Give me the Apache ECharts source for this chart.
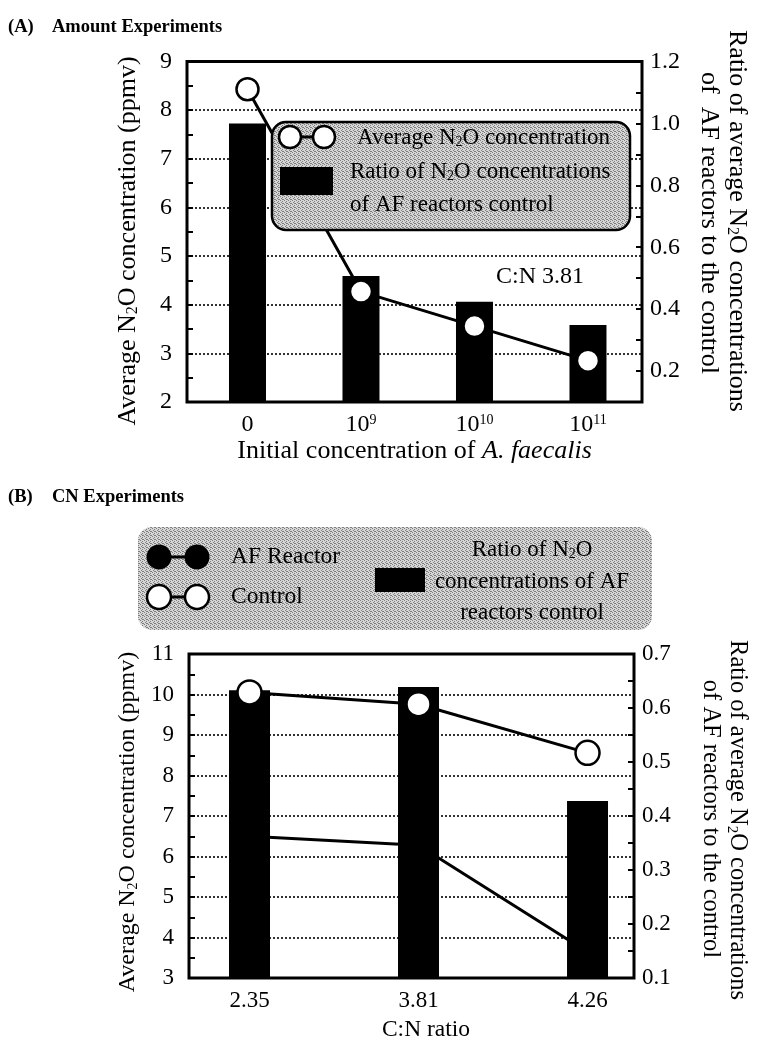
<!DOCTYPE html>
<html><head><meta charset="utf-8">
<script src="https://cdn.jsdelivr.net/npm/echarts@6/dist/echarts.min.js"></script>
<style>html,body{margin:0;padding:0;background:#fff}#c{width:757px;height:1048px}</style>
</head><body><div id="c"></div>
<script>
// ---------- Panel A: Amount Experiments ----------
const catsA = ['0', '10^9', '10^10', '10^11'];
const avgN2OA = [8.43, 4.27, 3.56, 2.85];          // ppmv, left axis
const ratioA = [1.00, 0.507, 0.424, 0.349];        // ratio, right axis
const leftLabelsA = [2, 3, 4, 5, 6, 7, 8, 9];
const rightLabelsA = [0.2, 0.4, 0.6, 0.8, 1.0, 1.2];
// ---------- Panel B: CN Experiments ----------
const catsB = ['2.35', '3.81', '4.26'];
const afReactorB = [6.50, 6.28, 3.64];             // ppmv, left axis
const controlB = [10.05, 9.76, 8.56];              // ppmv, left axis
const ratioB = [0.633, 0.639, 0.428];              // ratio, right axis
const leftLabelsB = [3, 4, 5, 6, 7, 8, 9, 10, 11];
const rightLabelsB = [0.1, 0.2, 0.3, 0.4, 0.5, 0.6, 0.7];

const FF = 'Liberation Serif';
const chart = echarts.init(document.getElementById('c'), null, {renderer: 'canvas'});

function steps(a, b, s) { const r = []; for (let v = a; v <= b + 1e-9; v += s) r.push(+v.toFixed(4)); return r; }
function pairs(vals) { return vals.map((v, i) => [i, v]); }
function catLabel(c) {
  const p = c.split('^');
  return p.length > 1 ? '{b|' + p[0] + '}{s|' + p[1] + '}' : '{b|' + c + '}';
}
function stipple() {
  const c = document.createElement('canvas'); c.width = 4; c.height = 4;
  const g = c.getContext('2d');
  g.fillStyle = '#d6d6d6'; g.fillRect(0, 0, 4, 4);
  g.fillStyle = '#7e7e7e';
  [[0, 0], [2, 1], [1, 2], [3, 3], [2, 3]].forEach(p => g.fillRect(p[0], p[1], 1, 1));
  return c;
}
const pat = stipple();

const tickStyle = {lineStyle: {color: '#000', width: 2}};
const dotted = {show: true, lineStyle: {color: '#000', width: 1.6, type: [2, 2]}};
const noLine = {show: false, onZero: false};
const numLabel = (size, margin) => ({color: '#000', fontFamily: FF, fontSize: size, margin: margin});

function n2oText(x, y, rot, pre, post, size, align) {
  return {type: 'text', x: x, y: y, rotation: rot, z: 101,
    style: {text: '{t|' + pre + '}{s|2}{t|' + post + '}', align: align || 'center', verticalAlign: 'middle',
      rich: {t: {fontFamily: FF, fontSize: size, fill: '#000'}, s: {fontFamily: FF, fontSize: Math.round(size * 0.6), fill: '#000', verticalAlign: 'bottom'}}}};
}
function plainText(x, y, txt, size, opts, rot) {
  return {type: 'text', x: x, y: y, z: 101, rotation: rot || 0,
    style: Object.assign({text: txt, fontFamily: FF, fontSize: size, fill: '#000', align: 'left', verticalAlign: 'middle'}, (opts || {}))};
}
// hidden axis that only draws the dotted integer gridlines
function gridAxis(gi, mn, mx) {
  return {type: 'value', gridIndex: gi, position: 'left', min: mn, max: mx, interval: 1,
    axisLine: noLine, axisTick: {show: false}, axisLabel: {show: false}, splitLine: dotted};
}

const option = {
  animation: false,
  backgroundColor: '#fff',
  grid: [
    {left: 187, top: 61.5, width: 455, height: 340.5, show: true, borderColor: '#000', borderWidth: 3, backgroundColor: 'transparent'},
    {left: 189, top: 654, width: 445, height: 324, show: true, borderColor: '#000', borderWidth: 3, backgroundColor: 'transparent'}
  ],
  xAxis: [
    {type: 'value', gridIndex: 0, min: -0.533, max: 3.476,
      axisLine: noLine, axisTick: {show: false}, splitLine: {show: false},
      axisLabel: {customValues: [0, 1, 2, 3], margin: 11, formatter: v => catLabel(catsA[Math.round(v)]),
        rich: {b: {fontFamily: FF, fontSize: 24, color: '#000'}, s: {fontFamily: FF, fontSize: 14, color: '#000', verticalAlign: 'top'}}},
      name: 'Initial concentration of {i|A. faecalis}', nameLocation: 'middle', nameGap: 36,
      nameTextStyle: {fontFamily: FF, fontSize: 26, color: '#000', rich: {i: {fontFamily: FF, fontSize: 26, fontStyle: 'italic', color: '#000'}}}},
    {type: 'value', gridIndex: 1, min: -0.358, max: 2.275,
      axisLine: noLine, axisTick: {show: false}, splitLine: {show: false},
      axisLabel: Object.assign(numLabel(23, 11), {customValues: [0, 1, 2], formatter: v => catsB[Math.round(v)]})}
  ],
  yAxis: [
    {type: 'value', gridIndex: 0, position: 'left', min: 2, max: 9,
      axisLine: noLine, splitLine: {show: false},
      axisTick: Object.assign({inside: true, length: 6, customValues: steps(2, 9, 0.5)}, tickStyle),
      axisLabel: Object.assign(numLabel(24, 15), {customValues: leftLabelsA})},
    {type: 'value', gridIndex: 0, position: 'right', min: 0.1, max: 1.2,
      axisLine: noLine, splitLine: {show: false},
      axisTick: Object.assign({inside: true, length: 6, customValues: steps(0.1, 1.2, 0.1)}, tickStyle),
      axisLabel: Object.assign(numLabel(24, 8), {customValues: rightLabelsA, formatter: v => v.toFixed(1)})},
    {type: 'value', gridIndex: 1, position: 'left', min: 3, max: 11,
      axisLine: noLine, splitLine: {show: false},
      axisTick: Object.assign({inside: true, length: 6, customValues: steps(3, 11, 0.5)}, tickStyle),
      axisLabel: Object.assign(numLabel(23, 15), {customValues: leftLabelsB})},
    {type: 'value', gridIndex: 1, position: 'right', min: 0.1, max: 0.7,
      axisLine: noLine, splitLine: {show: false},
      axisTick: Object.assign({inside: true, length: 6, customValues: steps(0.1, 0.7, 0.05)}, tickStyle),
      axisLabel: Object.assign(numLabel(23, 8), {customValues: rightLabelsB, formatter: v => v.toFixed(1)})},
    gridAxis(0, 2, 9),
    gridAxis(1, 3, 11)
  ],
  series: [
    {type: 'bar', xAxisIndex: 0, yAxisIndex: 1, data: pairs(ratioA), barWidth: 37, clip: true,
      itemStyle: {color: '#000'}, z: 2},
    {type: 'line', xAxisIndex: 0, yAxisIndex: 0, data: pairs(avgN2OA), symbol: 'circle', symbolSize: 22,
      itemStyle: {color: '#fff', borderColor: '#000', borderWidth: 2.5}, lineStyle: {color: '#000', width: 3}, z: 3},
    {type: 'bar', xAxisIndex: 1, yAxisIndex: 3, data: pairs(ratioB), barWidth: 41, clip: true,
      itemStyle: {color: '#000'}, z: 2},
    {type: 'line', xAxisIndex: 1, yAxisIndex: 2, data: pairs(afReactorB), symbol: 'circle', symbolSize: 24,
      itemStyle: {color: '#000', borderColor: '#000', borderWidth: 2}, lineStyle: {color: '#000', width: 3}, z: 3},
    {type: 'line', xAxisIndex: 1, yAxisIndex: 2, data: pairs(controlB), symbol: 'circle', symbolSize: 24,
      itemStyle: {color: '#fff', borderColor: '#000', borderWidth: 2.5}, lineStyle: {color: '#000', width: 3}, z: 4}
  ],
  graphic: [
    // titles
    plainText(8, 27, '(A)', 18.5, {fontWeight: 'bold'}),
    plainText(52, 27, 'Amount Experiments', 18.5, {fontWeight: 'bold'}),
    plainText(8, 497, '(B)', 18.5, {fontWeight: 'bold'}),
    plainText(52, 497, 'CN Experiments', 18.5, {fontWeight: 'bold'}),
    // axis names panel A
    n2oText(128, 241, Math.PI / 2, 'Average N', 'O concentration (ppmv)', 26),
    n2oText(737, 221, -Math.PI / 2, 'Ratio of average N', 'O concentrations', 26),
    plainText(709, 223, 'of  AF reactors to the control', 26, {align: 'center'}, -Math.PI / 2),
    // axis names panel B
    n2oText(128, 822, Math.PI / 2, 'Average N', 'O concentration (ppmv)', 24),
    n2oText(737, 820, -Math.PI / 2, 'Ratio of average N', 'O concentrations', 24.5),
    plainText(710, 819, 'of AF reactors to the control', 24.5, {align: 'center'}, -Math.PI / 2),
    plainText(426, 1030, 'C:N ratio', 23.5, {align: 'center'}),
    // annotation
    plainText(496, 277, 'C:N 3.81', 24),
    // legend A
    {type: 'rect', z: 100, shape: {x: 272, y: 122, width: 358, height: 108, r: 14},
      style: {fill: {image: pat, repeat: 'repeat'}, stroke: '#000', lineWidth: 2.5}},
    {type: 'line', z: 101, shape: {x1: 290, y1: 137, x2: 324, y2: 137}, style: {stroke: '#000', lineWidth: 3}},
    {type: 'circle', z: 102, shape: {cx: 290, cy: 137, r: 11}, style: {fill: '#fff', stroke: '#000', lineWidth: 2.5}},
    {type: 'circle', z: 102, shape: {cx: 324, cy: 137, r: 11}, style: {fill: '#fff', stroke: '#000', lineWidth: 2.5}},
    {type: 'rect', z: 101, shape: {x: 280, y: 167, width: 53, height: 28}, style: {fill: '#000'}},
    n2oText(357, 138, 0, 'Average N', 'O concentration', 23, 'left'),
    n2oText(350, 172, 0, 'Ratio of N', 'O concentrations', 23, 'left'),
    plainText(350, 205, 'of AF reactors control', 23),
    // legend B
    {type: 'rect', z: 100, shape: {x: 138, y: 527, width: 514, height: 103, r: 14},
      style: {fill: {image: pat, repeat: 'repeat'}}},
    {type: 'line', z: 101, shape: {x1: 159, y1: 557, x2: 197, y2: 557}, style: {stroke: '#000', lineWidth: 3}},
    {type: 'circle', z: 102, shape: {cx: 159, cy: 557, r: 12.5}, style: {fill: '#000'}},
    {type: 'circle', z: 102, shape: {cx: 197, cy: 557, r: 12.5}, style: {fill: '#000'}},
    {type: 'line', z: 101, shape: {x1: 159, y1: 597, x2: 197, y2: 597}, style: {stroke: '#000', lineWidth: 3}},
    {type: 'circle', z: 102, shape: {cx: 159, cy: 597, r: 12}, style: {fill: '#fff', stroke: '#000', lineWidth: 2.5}},
    {type: 'circle', z: 102, shape: {cx: 197, cy: 597, r: 12}, style: {fill: '#fff', stroke: '#000', lineWidth: 2.5}},
    plainText(231, 557, 'AF Reactor', 23.5),
    plainText(231, 597, 'Control', 23.5),
    {type: 'rect', z: 101, shape: {x: 375, y: 568, width: 50, height: 24}, style: {fill: '#000'}},
    n2oText(532, 550, 0, 'Ratio of N', 'O', 23),
    plainText(532, 582, 'concentrations of AF', 23, {align: 'center'}),
    plainText(532, 613, 'reactors control', 23, {align: 'center'})
  ]
};
chart.setOption(option);
</script>
</body></html>
